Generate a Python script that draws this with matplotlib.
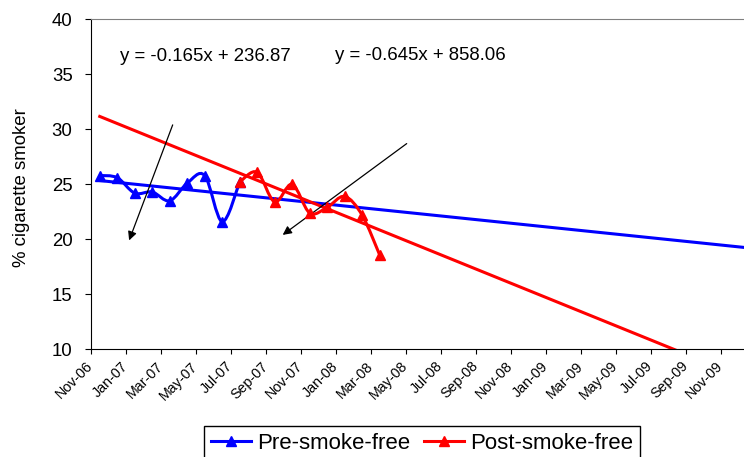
import matplotlib
matplotlib.use('Agg')
import matplotlib.pyplot as plt
import numpy as np
from matplotlib.path import Path
from matplotlib.patches import PathPatch
from matplotlib.lines import Line2D
from matplotlib.transforms import ScaledTranslation

plt.rcParams['font.family'] = ['Liberation Sans', 'DejaVu Sans']

# x is the trendline's month count (Nov-06 = 1282), one value per month
pre_months = list(range(1282, 1291))
pre_values = [25.8, 25.6, 24.2, 24.3, 23.5, 25.1, 25.8, 21.6, 25.2]
post_months = list(range(1290, 1299))
post_values = [25.2, 26.1, 23.4, 25.0, 22.4, 22.9, 23.9, 22.2, 18.6]

# trendlines as printed on the chart (slope, intercept)
pre_fit = (-0.165, 236.87)
post_fit = (-0.645, 858.06)

tick_labels = ['Nov-06', 'Jan-07', 'Mar-07', 'May-07', 'Jul-07', 'Sep-07',
               'Nov-07', 'Jan-08', 'Mar-08', 'May-08', 'Jul-08', 'Sep-08',
               'Nov-08', 'Jan-09', 'Mar-09', 'May-09', 'Jul-09', 'Sep-09',
               'Nov-09']


def smooth_path(xs, ys):
    # catmull-rom through the points, like Excel's smoothed line
    pts = np.column_stack([xs, ys]).astype(float)
    ext = np.vstack([pts[0], pts, pts[-1]])
    verts = [pts[0]]
    codes = [Path.MOVETO]
    for i in range(len(pts) - 1):
        p0, p1, p2, p3 = ext[i], ext[i + 1], ext[i + 2], ext[i + 3]
        verts += [p1 + (p2 - p0) / 6, p2 - (p3 - p1) / 6, p2]
        codes += [Path.CURVE4] * 3
    return Path(verts, codes)


fig = plt.figure(figsize=(7.44, 4.57), dpi=100)
ax = fig.add_axes([91 / 744, 1 - 349.3 / 457, 653 / 744, 330 / 457])

x0 = 1281.5
x1 = x0 + 653 / 17.49
ax.set_xlim(x0, x1)
ax.set_ylim(10, 40)

# trendlines, both drawn from the first month
tx = np.array([pre_months[0], x1 + 1])
ax.plot(tx, pre_fit[0] * tx + pre_fit[1], color='blue', lw=2.2, zorder=2)
ax.plot(tx, post_fit[0] * tx + post_fit[1], color='red', lw=2.2, zorder=2)

# smoothed series
ax.add_patch(PathPatch(smooth_path(pre_months, pre_values), fill=False,
                       edgecolor='blue', lw=2.2, zorder=3))
ax.plot(pre_months, pre_values, ls='none', marker='^', ms=7, color='blue', zorder=4)
ax.add_patch(PathPatch(smooth_path(post_months, post_values), fill=False,
                       edgecolor='red', lw=2.2, zorder=5))
ax.plot(post_months, post_values, ls='none', marker='^', ms=7, color='red', zorder=6)

# equations and arrows
ax.text(1283.16, 36.6, 'y = -0.165x + 236.87', fontsize=13.4, va='center')
ax.text(1295.45, 36.7, 'y = -0.645x + 858.06', fontsize=13.4, va='center')
arrow = dict(arrowstyle='-|>', color='black', lw=0.9, mutation_scale=13,
             shrinkA=0, shrinkB=0)
ax.annotate('', xy=(1283.68, 19.9), xytext=(1286.17, 30.4), arrowprops=arrow)
ax.annotate('', xy=(1292.46, 20.4), xytext=(1299.55, 28.7), arrowprops=arrow)

# axes styling
ax.set_yticks(range(10, 41, 5))
ax.tick_params(axis='y', labelsize=13.4, length=4.3, pad=9, direction='out')
ax.set_xticks([x0 + 2 * i for i in range(len(tick_labels))])
ax.set_xticklabels(tick_labels, rotation=45, ha='right', va='center',
                   rotation_mode='anchor', fontsize=10.3)
shift = ScaledTranslation(3 / 72, 0, fig.dpi_scale_trans)
for lab in ax.get_xticklabels():
    lab.set_transform(lab.get_transform() + shift)
ax.tick_params(axis='x', length=3.6, pad=7, direction='out')
ax.spines['right'].set_visible(False)
ax.spines['top'].set_color('#808080')
ax.set_ylabel('% cigarette smoker', fontsize=13.4)
ax.yaxis.set_label_coords(-0.093, 0.49)

handles = [Line2D([], [], color='blue', lw=2.2, marker='^', ms=7),
           Line2D([], [], color='red', lw=2.2, marker='^', ms=7)]
leg = fig.legend(handles, ['Pre-smoke-free', 'Post-smoke-free'], ncol=2,
                 loc='upper center', bbox_to_anchor=(422 / 744, 1 - 426 / 457),
                 fontsize=16, fancybox=False, edgecolor='black', framealpha=1,
                 handlelength=1.8, handletextpad=0.3, columnspacing=0.6,
                 borderpad=0.3, borderaxespad=0, numpoints=1)
leg.get_frame().set_linewidth(1)

fig.savefig('out.png', dpi=100)
